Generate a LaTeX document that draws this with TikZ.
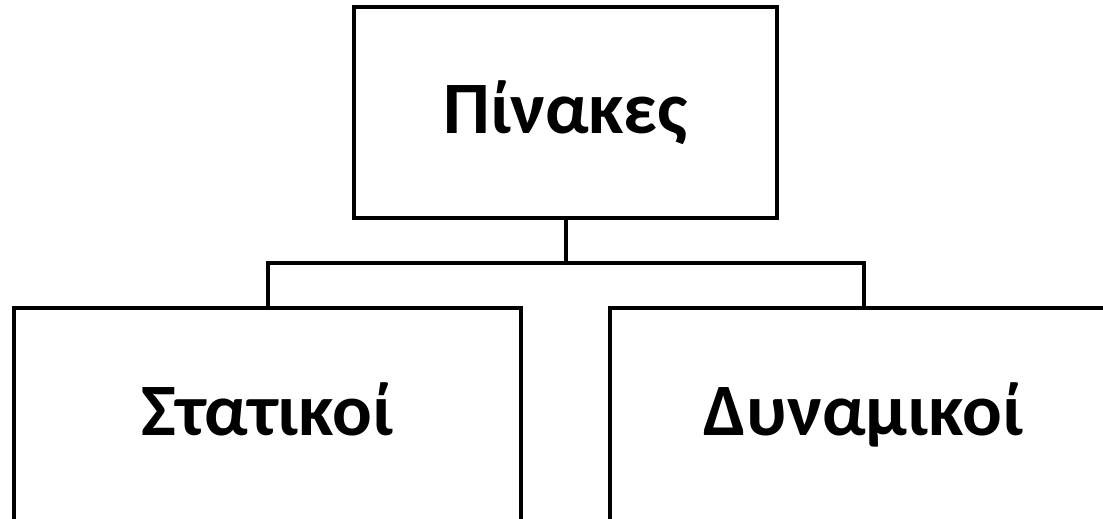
\documentclass[tikz,border=0pt]{standalone}
\usepackage{fontspec}
\setmainfont{Carlito}
\begin{document}
\begin{tikzpicture}[x=1pt,y=1pt,
  box/.style={draw=black,line width=4pt,fill=white,inner sep=0pt,text depth=0pt,font=\fontsize{74}{88}\selectfont\bfseries},
  conn/.style={draw=black,line width=4pt}]
\useasboundingbox (0,0) rectangle (1103,-519);
\node[box,minimum width=423pt,minimum height=211pt,text height=41pt] (top) at (565.5,-112.5) {Πίνακες};
\node[box,minimum width=507pt,minimum height=222pt,text height=32pt] (left) at (267.5,-419) {Στατικοί};
\node[box,minimum width=507pt,minimum height=222pt,text height=32pt] (right) at (863.5,-419) {Δυναμικοί};
\coordinate (j) at (565.5,-263);
\draw[conn] (top.south) -- (j);
\draw[conn,line cap=rect] (j) -| (left.north);
\draw[conn,line cap=rect] (j) -| (right.north);
\end{tikzpicture}
\end{document}
